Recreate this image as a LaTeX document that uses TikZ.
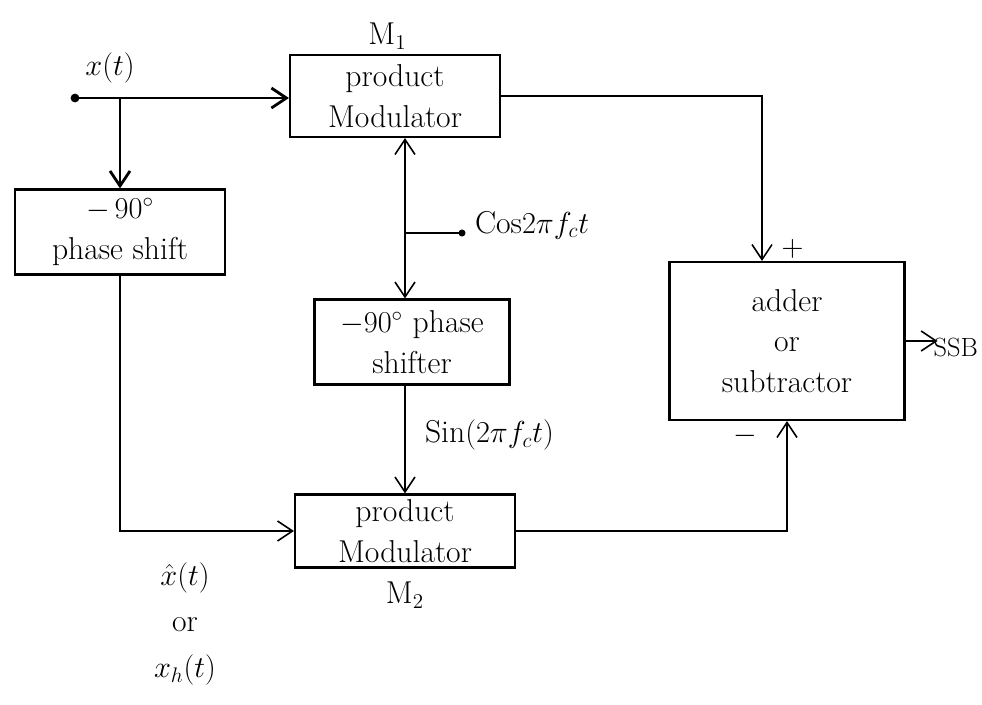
\documentclass[tikz,border=0pt]{standalone}
\usetikzlibrary{arrows.meta,positioning,calc}

\begin{document}
\begin{tikzpicture}[>={Straight Barb[length=3mm,width=4mm]},line width=0.9pt,
  font=\fontsize{18}{23}\selectfont,
  blk/.style={draw,line width=1.2pt,align=center,inner sep=2pt},
  lbl/.style={inner sep=1pt,align=center}]
\useasboundingbox (0,0) rectangle (19.64,-14.08);
% blocks
\node[blk,minimum width=42mm,minimum height=16.4mm] (m1) at (7.9,-1.92) {product\\Modulator};
\node[blk,minimum width=42mm,minimum height=17mm] (ls) at (2.4,-4.64) {$-\,90^\circ$\\phase shift};
\node[blk,minimum width=39mm,minimum height=17mm] (ps) at (8.24,-6.84) {$-90^\circ$ phase\\shifter};
\node[blk,minimum width=44mm,minimum height=14.6mm] (m2) at (8.1,-10.62) {product\\Modulator};
\node[blk,minimum width=47mm,minimum height=31.6mm] (ad) at (15.74,-6.82) {adder\\or\\subtractor};
% labels
\node[lbl] (xt) at (2.2,-1.36) {$x(t)$};
\node[lbl] (mone) at (7.75,-0.72) {M$_1$};
\node[lbl] (mtwo) at (8.1,-11.9) {M$_2$};
\node[lbl,anchor=west] (cos) at (9.45,-4.5) {Cos$2\pi f_ct$};
\node[lbl,anchor=west] (sin) at (8.45,-8.7) {Sin$(2\pi f_ct)$};
\node[lbl] (plus) at (15.85,-4.98) {$+$};
\node[lbl] (minus) at (14.9,-8.72) {$-$};
\node[lbl] (xh) at (3.7,-11.55) {$\hat{x}(t)$};
\node[lbl] (xor) at (3.7,-12.5) {or};
\node[lbl] (xhil) at (3.7,-13.4) {$x_h(t)$};
\node[lbl,anchor=west] (ssb) at (18.62,-6.95) {\fontsize{15}{17}\selectfont SSB};
% junctions
\fill (1.5,-1.96) circle (2.5pt) coordinate (in);
\coordinate (br) at (2.4,-1.96);
\coordinate (cj) at (8.1,-4.66);
\fill (9.24,-4.66) circle (2pt) coordinate (cs);
\coordinate (out) at (18.75,-6.82);
% connectors
\draw[->,line width=1.6pt] (in) -- (in -| m1.west);
\draw[->,line width=1.6pt] (br) -- (ls.north -| br);
\draw[->] (cj) -- (m1.south -| cj);
\draw[->] (cj) -- (ps.north -| cj);
\draw (cj) -- (cs);
\draw[->] (ps.south -| cj) -- (m2.north -| cj);
\draw[->] (ls.south) |- (m2.west);
\draw[->] (m1.east) -| ([xshift=-5mm]ad.north);
\draw[->] (m2.east) -| (ad.south);
\draw[->] (ad.east) -- (out);
\end{tikzpicture}
\end{document}
